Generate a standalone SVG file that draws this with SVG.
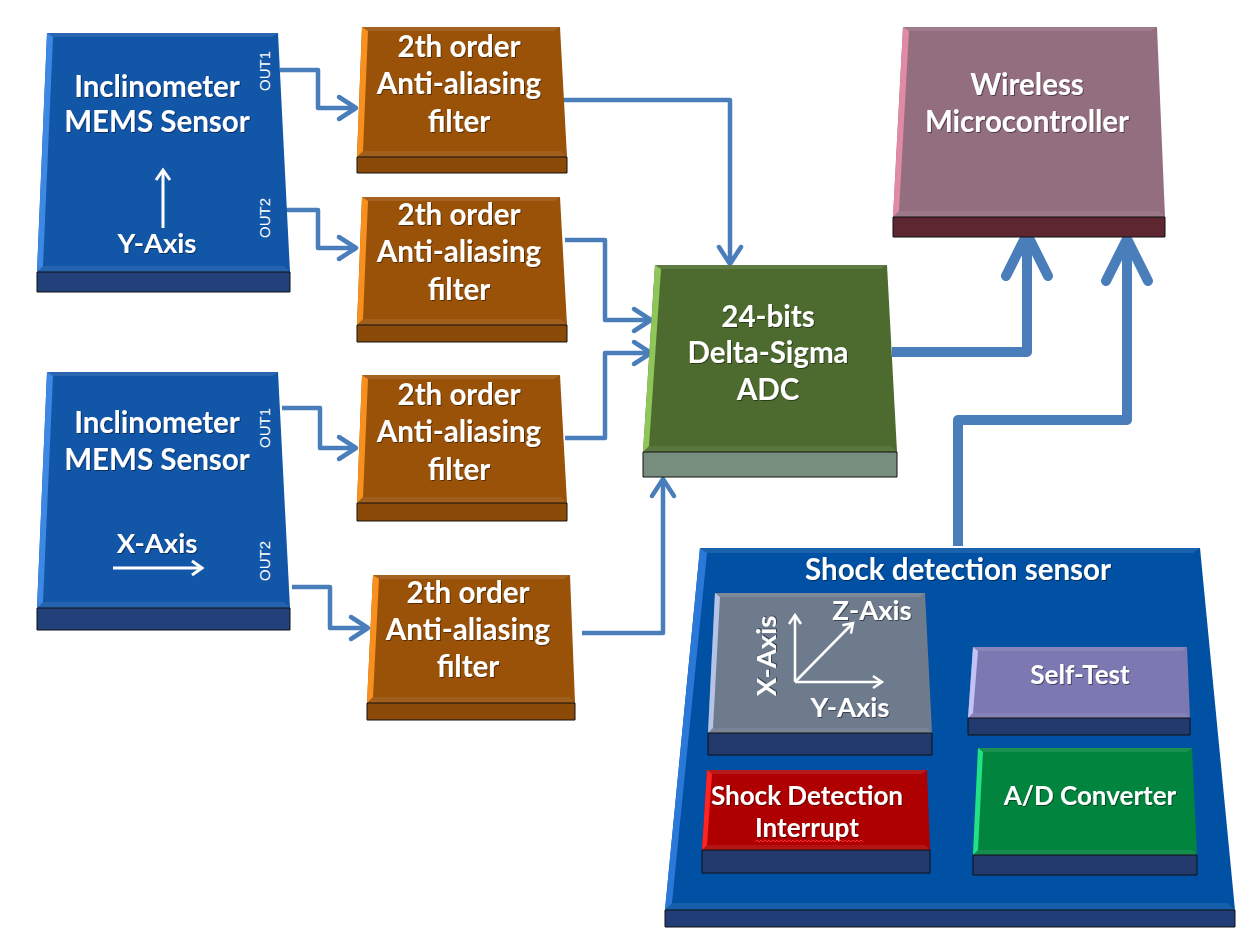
<svg xmlns="http://www.w3.org/2000/svg" width="1253" height="930" viewBox="0 0 1253 930">
<defs>
<style>
.t{font-family:Lato,"Liberation Sans",sans-serif;font-weight:bold;fill:#fff;text-anchor:middle;filter:url(#ts)}
.s25{font-size:29.5px}
.s22{font-size:26px}
.s21{font-size:26px}
.sax{font-size:27.5px}
.out{font-family:"Liberation Sans",Arial,sans-serif;font-size:15px;fill:#fff;text-anchor:middle}
.slab{stroke:#111;stroke-width:1}
.top{fill:#fff;fill-opacity:.10}
.bot{fill:#fff;fill-opacity:.08}
.c{fill:none;stroke:#4a7ebb;stroke-width:4.5;stroke-linejoin:round;marker-end:url(#ah)}
.ck{fill:none;stroke:#4a7ebb;stroke-width:10;stroke-linejoin:round;marker-end:url(#ahk)}
.wa{fill:none;stroke:#fff;stroke-width:3;marker-end:url(#wh)}
.wb{fill:none;stroke:#fff;stroke-width:2.5;marker-end:url(#wh2)}
.blue .f{fill:#1256a8}.blue .l{fill:#3d88e2}.blue .slab{fill:#22407a}
.org .f{fill:#9a5209}.org .l{fill:#f7901e}.org .slab{fill:#8c4a09}
.grn .f{fill:#4e6b2f}.grn .l{fill:#8fc65a}.grn .slab{fill:#778e7f}
.mrn .f{fill:#936e7e}.mrn .l{fill:#e08aa6}.mrn .slab{fill:#5e2630}
.shk .f{fill:#0051a3}.shk .l{fill:#2a78d8}.shk .slab{fill:#213d78}
.gry .f{fill:#6e7b8d}.gry .l{fill:#b5c4e6}.gry .slab{fill:#233a6e}
.prp .f{fill:#7b78b2}.prp .l{fill:#c4c2f4}.prp .slab{fill:#233a6e}
.red .f{fill:#ae0000}.red .l{fill:#ff2424}.red .slab{fill:#233a6e}
.gn2 .f{fill:#00843e}.gn2 .l{fill:#22e288}.gn2 .slab{fill:#233a6e}
</style>
<filter id="ts" x="-10%" y="-20%" width="120%" height="150%">
<feDropShadow dx="1" dy="1" stdDeviation="0.6" flood-color="#000" flood-opacity="0.45"/>
</filter>
<marker id="ah" markerUnits="userSpaceOnUse" markerWidth="24" markerHeight="26" viewBox="0 0 24 26" refX="20" refY="13" orient="auto" overflow="visible">
<path d="M3,2 L20,13 L3,24" fill="none" stroke="#4a7ebb" stroke-width="4.5" stroke-linecap="round" stroke-linejoin="round"/>
</marker>
<marker id="ahk" markerUnits="userSpaceOnUse" markerWidth="50" markerHeight="50" viewBox="0 0 50 50" refX="46" refY="25" orient="auto" overflow="visible">
<path d="M4,4 L46,25 L4,46" fill="none" stroke="#4a7ebb" stroke-width="10" stroke-linecap="round" stroke-linejoin="round"/>
</marker>
<marker id="wh" markerUnits="userSpaceOnUse" markerWidth="16" markerHeight="16" viewBox="0 0 16 16" refX="13" refY="8" orient="auto" overflow="visible">
<path d="M3,1 L13,8 L3,15" fill="none" stroke="#fff" stroke-width="3" stroke-linejoin="miter"/>
</marker>
<marker id="wh2" markerUnits="userSpaceOnUse" markerWidth="14" markerHeight="14" viewBox="0 0 14 14" refX="11" refY="7" orient="auto" overflow="visible">
<path d="M2,1 L11,7 L2,13" fill="none" stroke="#fff" stroke-width="2.5"/>
</marker>
</defs>
<rect width="1253" height="930" fill="#fff"/>

<g id="connectors">
<path class="c" d="M280,70 H318 V108 H356"/>
<path class="c" d="M282,210 H318 V248 H356"/>
<path class="c" d="M282,408 H320 V448 H356"/>
<path class="c" d="M292,587 H330 V628 H368"/>
<path class="c" d="M562,100 H730 V264"/>
<path class="c" d="M565,240 H605 V320 H651"/>
<path class="c" d="M565,438 H605 V353 H651"/>
<path class="c" d="M582,633 H663 V479"/>
<path class="ck" d="M892,352 H1027 V234"/>
<path class="ck" d="M958,546 V420 H1127 V239"/>
</g>

<g id="sensor-y" class="blue">
<polygon class="f" points="47,33 278,33 290,272 37,272"/>
<polygon class="l" points="47,33 53,37 43,266 37,272"/>
<polygon class="top" points="47,33 278,33 272,37 53,37"/>
<polygon class="bot" points="37,272 43,266 284,266 290,272"/>
<polygon class="slab" points="37,272 290,272 290,292 37,292"/>
<text class="t s25" x="157" y="97">Inclinometer</text>
<text class="t s25" x="157" y="132">MEMS Sensor</text>
<path class="wa" d="M163,228 V170"/>
<text class="t sax" x="157" y="253">Y-Axis</text>
<text class="out" transform="translate(270,71) rotate(-90)">OUT1</text>
<text class="out" transform="translate(270,218) rotate(-90)">OUT2</text>
</g>

<g id="sensor-x" class="blue">
<polygon class="f" points="47,372 278,372 290,608 37,608"/>
<polygon class="l" points="47,372 53,376 43,602 37,608"/>
<polygon class="top" points="47,372 278,372 272,376 53,376"/>
<polygon class="bot" points="37,608 43,602 284,602 290,608"/>
<polygon class="slab" points="37,608 290,608 290,630 37,630"/>
<text class="t s25" x="157" y="433">Inclinometer</text>
<text class="t s25" x="157" y="470">MEMS Sensor</text>
<text class="t sax" x="157" y="553">X-Axis</text>
<path class="wa" d="M113,568 H202"/>
<text class="out" transform="translate(270,428) rotate(-90)">OUT1</text>
<text class="out" transform="translate(270,561) rotate(-90)">OUT2</text>
</g>

<g id="filter1" class="org">
<polygon class="f" points="362,27 560,27 567,157 357,157"/>
<polygon class="l" points="362,27 368,31 363,151 357,157"/>
<polygon class="top" points="362,27 560,27 554,31 368,31"/>
<polygon class="bot" points="357,157 363,151 561,151 567,157"/>
<polygon class="slab" points="357,157 567,157 567,173 357,173"/>
<text class="t s25" x="459" y="57">2th order</text>
<text class="t s25" x="459" y="94">Anti-aliasing</text>
<text class="t s25" x="459" y="132">filter</text>
</g>

<g id="filter2" class="org">
<polygon class="f" points="362,197 560,197 567,325 357,325"/>
<polygon class="l" points="362,197 368,201 363,319 357,325"/>
<polygon class="top" points="362,197 560,197 554,201 368,201"/>
<polygon class="bot" points="357,325 363,319 561,319 567,325"/>
<polygon class="slab" points="357,325 567,325 567,342 357,342"/>
<text class="t s25" x="459" y="225">2th order</text>
<text class="t s25" x="459" y="262">Anti-aliasing</text>
<text class="t s25" x="459" y="300">filter</text>
</g>

<g id="filter3" class="org">
<polygon class="f" points="362,375 560,375 567,503 357,503"/>
<polygon class="l" points="362,375 368,379 363,497 357,503"/>
<polygon class="top" points="362,375 560,375 554,379 368,379"/>
<polygon class="bot" points="357,503 363,497 561,497 567,503"/>
<polygon class="slab" points="357,503 567,503 567,521 357,521"/>
<text class="t s25" x="459" y="405">2th order</text>
<text class="t s25" x="459" y="442">Anti-aliasing</text>
<text class="t s25" x="459" y="480">filter</text>
</g>

<g id="filter4" class="org">
<polygon class="f" points="373,575 570,575 575,703 367,703"/>
<polygon class="l" points="373,575 379,579 373,697 367,703"/>
<polygon class="top" points="373,575 570,575 564,579 379,579"/>
<polygon class="bot" points="367,703 373,697 569,697 575,703"/>
<polygon class="slab" points="367,703 575,703 575,720 367,720"/>
<text class="t s25" x="468" y="603">2th order</text>
<text class="t s25" x="468" y="640">Anti-aliasing</text>
<text class="t s25" x="468" y="677">filter</text>
</g>

<g id="adc" class="grn">
<polygon class="f" points="655,265 887,265 897,452 643,452"/>
<polygon class="l" points="655,265 661,269 649,446 643,452"/>
<polygon class="top" points="655,265 887,265 881,269 661,269"/>
<polygon class="bot" points="643,452 649,446 891,446 897,452"/>
<polygon class="slab" points="643,452 897,452 897,477 643,477"/>
<text class="t s25" x="768" y="327">24-bits</text>
<text class="t s25" x="768" y="363">Delta-Sigma</text>
<text class="t s25" x="768" y="400">ADC</text>
</g>

<g id="microcontroller" class="mrn">
<polygon class="f" points="903,27 1157,27 1165,217 893,217"/>
<polygon class="l" points="903,27 909,31 899,211 893,217"/>
<polygon class="top" points="903,27 1157,27 1151,31 909,31"/>
<polygon class="bot" points="893,217 899,211 1159,211 1165,217"/>
<polygon class="slab" points="893,217 1165,217 1165,237 893,237"/>
<text class="t s25" x="1027" y="95">Wireless</text>
<text class="t s25" x="1027" y="132">Microcontroller</text>
</g>

<g id="shock-sensor" class="shk">
<polygon class="f" points="700,548 1200,548 1235,910 665,910"/>
<polygon class="l" points="700,548 707,553 672,903 665,910"/>
<polygon class="top" points="700,548 1200,548 1193,553 707,553"/>
<polygon class="bot" points="665,910 672,903 1228,903 1235,910"/>
<polygon class="slab" points="665,910 1235,910 1235,927 665,927"/>
<text class="t s25" x="958" y="580">Shock detection sensor</text>
</g>

<g id="axes" class="gry">
<polygon class="f" points="715,593 925,593 932,733 708,733"/>
<polygon class="l" points="715,593 720,597 713,728 708,733"/>
<polygon class="top" points="715,593 925,593 920,597 720,597"/>
<polygon class="bot" points="708,733 713,728 927,728 932,733"/>
<polygon class="slab" points="708,733 932,733 932,755 708,755"/>
<path class="wb" d="M795,682 V615"/>
<path class="wb" d="M795,682 H882"/>
<path class="wb" d="M795,682 L853,623"/>
<text class="t sax" x="872" y="620">Z-Axis</text>
<text class="t sax" x="850" y="717">Y-Axis</text>
<text class="t sax" transform="translate(776,656) rotate(-90)">X-Axis</text>
</g>

<g id="self-test" class="prp">
<polygon class="f" points="973,647 1187,647 1190,718 968,718"/>
<polygon class="l" points="973,647 978,651 973,713 968,718"/>
<polygon class="top" points="973,647 1187,647 1182,651 978,651"/>
<polygon class="bot" points="968,718 973,713 1185,713 1190,718"/>
<polygon class="slab" points="968,718 1190,718 1190,735 968,735"/>
<text class="t s21" x="1080" y="684">Self-Test</text>
</g>

<g id="shock-interrupt" class="red">
<polygon class="f" points="707,770 927,770 930,850 702,850"/>
<polygon class="l" points="707,770 712,774 707,845 702,850"/>
<polygon class="top" points="707,770 927,770 922,774 712,774"/>
<polygon class="bot" points="702,850 707,845 925,845 930,850"/>
<polygon class="slab" points="702,850 930,850 930,873 702,873"/>
<text class="t s22" x="807" y="805">Shock Detection</text>
<text class="t s22" x="807" y="837">Interrupt</text>
<path d="M755,842 l2,-2 l2,2 l2,-2 l2,2 l2,-2 l2,2 l2,-2 l2,2 l2,-2 l2,2 l2,-2 l2,2 l2,-2 l2,2 l2,-2 l2,2 l2,-2 l2,2 l2,-2 l2,2 l2,-2 l2,2 l2,-2 l2,2 l2,-2 l2,2 l2,-2 l2,2 l2,-2 l2,2 l2,-2 l2,2 l2,-2 l2,2 l2,-2 l2,2 l2,-2 l2,2 l2,-2 l2,2 l2,-2 l2,2 l2,-2 l2,2 l2,-2 l2,2 l2,-2 l2,2 l2,-2 l2,2 l2,-2 l2,2 l2,-2 l2,2" fill="none" stroke="#ff3030" stroke-width="1"/>
</g>

<g id="ad-converter" class="gn2">
<polygon class="f" points="978,748 1192,748 1197,855 973,855"/>
<polygon class="l" points="978,748 983,752 978,850 973,855"/>
<polygon class="top" points="978,748 1192,748 1187,752 983,752"/>
<polygon class="bot" points="973,855 978,850 1192,850 1197,855"/>
<polygon class="slab" points="973,855 1197,855 1197,875 973,875"/>
<text class="t s22" x="1090" y="805">A/D Converter</text>
</g>
</svg>
